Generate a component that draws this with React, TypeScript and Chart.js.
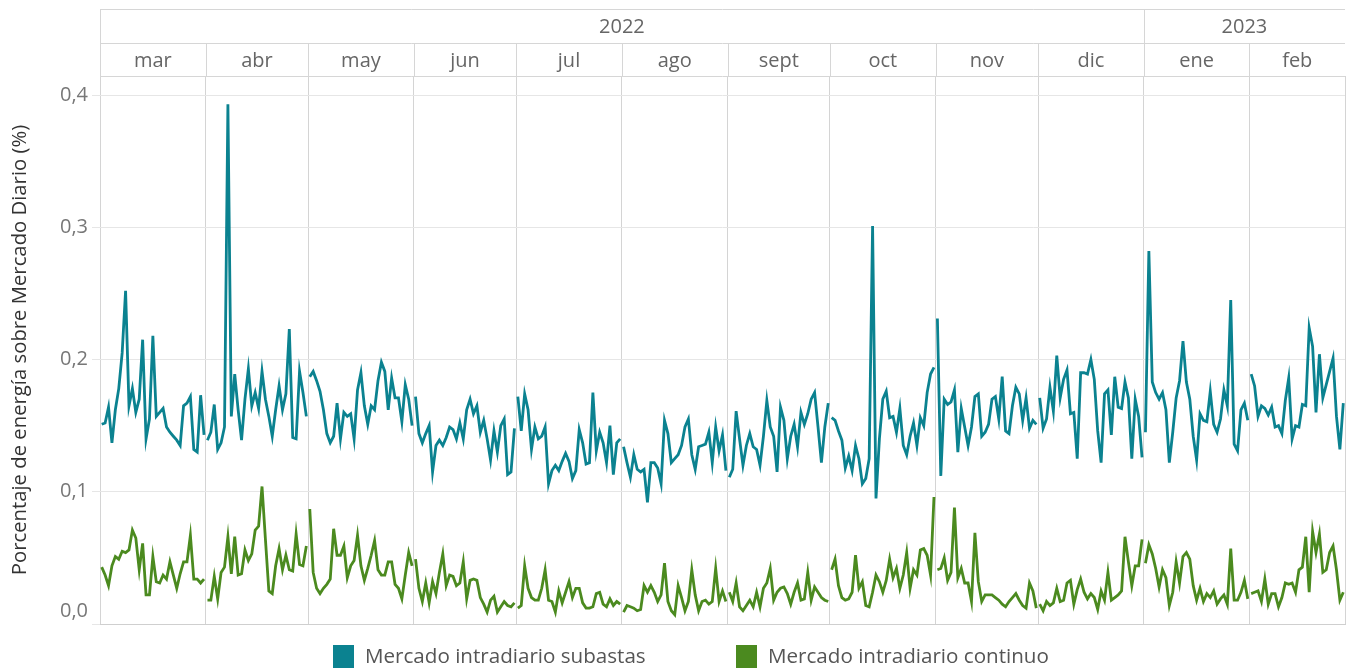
import React, { useEffect, useRef } from "react";
import { Chart, registerables } from "chart.js";

Chart.register(...registerables);

const MONTHS = ["mar", "abr", "may", "jun", "jul", "ago", "sept", "oct", "nov", "dic", "ene", "feb"];
const MONTH_DAYS = [31, 30, 31, 30, 31, 31, 30, 31, 30, 31, 31, 28];
const YEARS = ["2022", "2023"];
const YEAR_MONTH_COUNTS = [10, 2];
const Y_TICKS = [0, 0.1, 0.2, 0.3, 0.4];
const SERIES_NAMES = ["Mercado intradiario subastas", "Mercado intradiario continuo"];
const AXIS_TITLE = "Porcentaje de energía sobre Mercado Diario (%)";

// Mercado intradiario subastas — one array per month (mar 2022 … feb 2023)
const subastas: number[][] = [
  [0.151, 0.152, 0.164, 0.137, 0.162, 0.178, 0.205, 0.252, 0.165, 0.178, 0.160, 0.170, 0.215, 0.140, 0.155, 0.218, 0.157, 0.160, 0.163, 0.149, 0.145, 0.142, 0.139, 0.135, 0.165, 0.167, 0.172, 0.132, 0.130, 0.173, 0.143],
  [0.139, 0.145, 0.166, 0.132, 0.137, 0.149, 0.393, 0.157, 0.189, 0.162, 0.139, 0.170, 0.193, 0.165, 0.175, 0.163, 0.191, 0.170, 0.157, 0.142, 0.162, 0.180, 0.162, 0.174, 0.223, 0.141, 0.140, 0.191, 0.175, 0.157],
  [0.187, 0.191, 0.184, 0.176, 0.162, 0.144, 0.137, 0.142, 0.167, 0.140, 0.160, 0.157, 0.159, 0.140, 0.177, 0.190, 0.165, 0.151, 0.165, 0.162, 0.184, 0.198, 0.191, 0.162, 0.186, 0.171, 0.171, 0.153, 0.181, 0.170, 0.150],
  [0.172, 0.144, 0.137, 0.144, 0.150, 0.115, 0.135, 0.139, 0.135, 0.141, 0.149, 0.147, 0.140, 0.152, 0.140, 0.162, 0.170, 0.159, 0.165, 0.145, 0.154, 0.140, 0.124, 0.146, 0.130, 0.150, 0.155, 0.113, 0.115, 0.148],
  [0.172, 0.146, 0.174, 0.162, 0.132, 0.149, 0.140, 0.142, 0.149, 0.106, 0.116, 0.120, 0.116, 0.123, 0.129, 0.123, 0.110, 0.116, 0.147, 0.137, 0.121, 0.122, 0.175, 0.131, 0.145, 0.137, 0.122, 0.150, 0.113, 0.137, 0.140],
  [0.134, 0.122, 0.111, 0.128, 0.117, 0.115, 0.117, 0.092, 0.122, 0.122, 0.118, 0.106, 0.154, 0.144, 0.122, 0.125, 0.128, 0.135, 0.149, 0.155, 0.128, 0.117, 0.134, 0.135, 0.136, 0.145, 0.122, 0.149, 0.131, 0.143, 0.116],
  [0.111, 0.117, 0.161, 0.140, 0.120, 0.135, 0.144, 0.134, 0.132, 0.120, 0.142, 0.169, 0.149, 0.142, 0.115, 0.164, 0.154, 0.125, 0.142, 0.151, 0.134, 0.160, 0.151, 0.159, 0.170, 0.175, 0.149, 0.122, 0.149, 0.167],
  [0.156, 0.154, 0.146, 0.139, 0.118, 0.127, 0.116, 0.135, 0.125, 0.106, 0.110, 0.125, 0.301, 0.095, 0.140, 0.170, 0.176, 0.156, 0.157, 0.145, 0.163, 0.135, 0.128, 0.142, 0.152, 0.135, 0.156, 0.150, 0.175, 0.189, 0.194],
  [0.231, 0.112, 0.170, 0.166, 0.168, 0.177, 0.130, 0.163, 0.149, 0.135, 0.149, 0.172, 0.174, 0.142, 0.145, 0.151, 0.170, 0.172, 0.155, 0.187, 0.146, 0.144, 0.165, 0.179, 0.174, 0.154, 0.171, 0.148, 0.154, 0.151],
  [0.171, 0.148, 0.155, 0.179, 0.161, 0.203, 0.171, 0.185, 0.192, 0.159, 0.160, 0.125, 0.190, 0.190, 0.189, 0.200, 0.185, 0.146, 0.122, 0.174, 0.177, 0.143, 0.187, 0.164, 0.163, 0.183, 0.171, 0.125, 0.170, 0.157, 0.126],
  [0.145, 0.282, 0.183, 0.175, 0.170, 0.175, 0.162, 0.122, 0.145, 0.171, 0.184, 0.214, 0.183, 0.170, 0.142, 0.124, 0.159, 0.154, 0.153, 0.176, 0.151, 0.145, 0.155, 0.177, 0.165, 0.245, 0.136, 0.131, 0.162, 0.167, 0.154],
  [0.189, 0.180, 0.157, 0.165, 0.163, 0.158, 0.164, 0.149, 0.150, 0.144, 0.169, 0.186, 0.140, 0.150, 0.149, 0.166, 0.165, 0.224, 0.210, 0.160, 0.204, 0.171, 0.181, 0.191, 0.201, 0.157, 0.132, 0.167],
];

// Mercado intradiario continuo — one array per month (mar 2022 … feb 2023)
const continuo: number[][] = [
  [0.043, 0.037, 0.029, 0.044, 0.051, 0.049, 0.055, 0.054, 0.056, 0.071, 0.065, 0.041, 0.061, 0.022, 0.022, 0.051, 0.032, 0.031, 0.037, 0.034, 0.047, 0.037, 0.027, 0.038, 0.047, 0.047, 0.067, 0.034, 0.034, 0.031, 0.034],
  [0.018, 0.018, 0.036, 0.019, 0.039, 0.043, 0.066, 0.038, 0.066, 0.037, 0.038, 0.056, 0.048, 0.053, 0.071, 0.074, 0.104, 0.064, 0.025, 0.023, 0.044, 0.057, 0.041, 0.052, 0.041, 0.040, 0.068, 0.045, 0.044, 0.059],
  [0.087, 0.039, 0.027, 0.023, 0.027, 0.030, 0.034, 0.072, 0.052, 0.052, 0.059, 0.035, 0.044, 0.048, 0.067, 0.044, 0.033, 0.042, 0.052, 0.063, 0.041, 0.037, 0.037, 0.047, 0.047, 0.030, 0.027, 0.019, 0.037, 0.054, 0.044],
  [0.049, 0.027, 0.017, 0.031, 0.016, 0.032, 0.023, 0.039, 0.053, 0.029, 0.037, 0.036, 0.029, 0.031, 0.047, 0.019, 0.033, 0.034, 0.033, 0.020, 0.015, 0.009, 0.018, 0.021, 0.009, 0.013, 0.017, 0.014, 0.013, 0.016],
  [0.012, 0.014, 0.044, 0.027, 0.020, 0.018, 0.018, 0.027, 0.041, 0.018, 0.017, 0.009, 0.025, 0.016, 0.024, 0.032, 0.020, 0.027, 0.027, 0.016, 0.012, 0.012, 0.013, 0.023, 0.024, 0.015, 0.013, 0.019, 0.014, 0.017, 0.015],
  [0.009, 0.014, 0.013, 0.012, 0.010, 0.011, 0.029, 0.024, 0.029, 0.024, 0.017, 0.022, 0.046, 0.017, 0.010, 0.007, 0.029, 0.020, 0.010, 0.017, 0.041, 0.022, 0.010, 0.017, 0.018, 0.015, 0.017, 0.042, 0.017, 0.025, 0.017],
  [0.024, 0.017, 0.031, 0.013, 0.010, 0.014, 0.018, 0.013, 0.024, 0.013, 0.027, 0.031, 0.042, 0.018, 0.024, 0.027, 0.028, 0.023, 0.015, 0.024, 0.031, 0.018, 0.019, 0.039, 0.018, 0.028, 0.024, 0.020, 0.018, 0.017],
  [0.041, 0.049, 0.029, 0.020, 0.018, 0.019, 0.024, 0.052, 0.027, 0.032, 0.014, 0.013, 0.024, 0.037, 0.032, 0.024, 0.033, 0.049, 0.035, 0.042, 0.027, 0.037, 0.054, 0.027, 0.041, 0.037, 0.056, 0.057, 0.052, 0.037, 0.096],
  [0.041, 0.042, 0.050, 0.033, 0.039, 0.088, 0.035, 0.042, 0.031, 0.031, 0.017, 0.069, 0.032, 0.017, 0.022, 0.022, 0.022, 0.020, 0.018, 0.015, 0.013, 0.017, 0.020, 0.023, 0.018, 0.014, 0.012, 0.031, 0.025, 0.012],
  [0.015, 0.010, 0.017, 0.014, 0.016, 0.027, 0.017, 0.018, 0.031, 0.033, 0.015, 0.026, 0.034, 0.024, 0.019, 0.023, 0.020, 0.011, 0.025, 0.018, 0.039, 0.018, 0.020, 0.022, 0.025, 0.066, 0.047, 0.029, 0.044, 0.044, 0.064],
  [0.046, 0.060, 0.053, 0.042, 0.028, 0.041, 0.035, 0.014, 0.024, 0.047, 0.031, 0.051, 0.054, 0.049, 0.029, 0.018, 0.027, 0.017, 0.023, 0.020, 0.025, 0.015, 0.019, 0.022, 0.015, 0.057, 0.018, 0.018, 0.024, 0.033, 0.019],
  [0.023, 0.024, 0.025, 0.017, 0.034, 0.015, 0.023, 0.023, 0.013, 0.020, 0.031, 0.030, 0.031, 0.024, 0.041, 0.043, 0.066, 0.024, 0.070, 0.054, 0.068, 0.039, 0.041, 0.054, 0.059, 0.041, 0.018, 0.024],
];

const TEAL = "#0b8290";
const GREEN = "#4b8a1f";
const FONT = "'Open Sans', 'DejaVu Sans', sans-serif";

function monthStarts(): number[] {
  const starts: number[] = [];
  let acc = 0;
  for (const d of MONTH_DAYS) {
    starts.push(acc);
    acc += d;
  }
  starts.push(acc);
  return starts;
}

function buildPoints(series: number[][]) {
  const starts = monthStarts();
  const pts: { x: number; y: number | null }[] = [];
  series.forEach((month, m) => {
    month.forEach((v, i) => pts.push({ x: starts[m] + i + 0.5, y: v }));
    pts.push({ x: starts[m + 1], y: null });
  });
  return pts;
}

const fmt = (v: number) => v.toFixed(1).replace(".", ",");

const decorPlugin = {
  id: "decor",
  afterDraw(chart: any) {
    const { ctx, chartArea, scales } = chart;
    const xs = scales.x;
    const ys = scales.y;
    const starts = monthStarts();
    const L = chartArea.left;
    const R = chartArea.right;
    const headTop = 9.5;
    const headMid = 43.5;
    const headBot = chartArea.top + 0.5;
    ctx.save();
    ctx.strokeStyle = "#d6d6d6";
    ctx.lineWidth = 1;
    [headTop, headMid, headBot].forEach((y) => {
      ctx.beginPath();
      ctx.moveTo(L, y);
      ctx.lineTo(R, y);
      ctx.stroke();
    });
    ctx.beginPath();
    ctx.moveTo(Math.round(L) + 0.5, headTop);
    ctx.lineTo(Math.round(L) + 0.5, headBot);
    ctx.stroke();
    for (let m = 1; m < MONTHS.length; m++) {
      const px = Math.round(xs.getPixelForValue(starts[m])) + 0.5;
      ctx.beginPath();
      ctx.moveTo(px, headMid);
      ctx.lineTo(px, headBot);
      ctx.stroke();
    }
    let mi = 0;
    const yearBounds: [number, number][] = [];
    YEAR_MONTH_COUNTS.forEach((c) => {
      const a = xs.getPixelForValue(starts[mi]);
      const b = xs.getPixelForValue(starts[mi + c]);
      yearBounds.push([a, b]);
      mi += c;
    });
    for (let i = 1; i < yearBounds.length; i++) {
      const px = Math.round(yearBounds[i][0]) + 0.5;
      ctx.beginPath();
      ctx.moveTo(px, headTop);
      ctx.lineTo(px, headBot);
      ctx.stroke();
    }
    ctx.fillStyle = "#666666";
    ctx.font = `20px ${FONT}`;
    ctx.textAlign = "center";
    ctx.textBaseline = "middle";
    YEARS.forEach((y, i) => {
      ctx.fillText(y, (yearBounds[i][0] + yearBounds[i][1]) / 2, 27);
    });
    MONTHS.forEach((m, i) => {
      const a = xs.getPixelForValue(starts[i]);
      const b = xs.getPixelForValue(starts[i + 1]);
      ctx.fillText(m, (a + b) / 2, 61);
    });
    ctx.fillStyle = "#777777";
    ctx.textAlign = "right";
    Y_TICKS.forEach((v) => {
      let py = ys.getPixelForValue(v);
      if (v === 0) py -= 13;
      ctx.fillText(fmt(v), 88, py);
    });
    ctx.save();
    ctx.translate(20, (chartArea.top + chartArea.bottom) / 2);
    ctx.rotate(-Math.PI / 2);
    ctx.fillStyle = "#333333";
    ctx.textAlign = "center";
    ctx.font = `20.3px ${FONT}`;
    ctx.fillText(AXIS_TITLE, 0, 0);
    ctx.restore();
    const legendItems = [
      { name: SERIES_NAMES[0], color: TEAL, x: 333 },
      { name: SERIES_NAMES[1], color: GREEN, x: 736 },
    ];
    ctx.textAlign = "left";
    ctx.font = `20.6px ${FONT}`;
    legendItems.forEach((it) => {
      ctx.fillStyle = it.color;
      ctx.fillRect(it.x, 645, 21, 23);
      ctx.fillStyle = "#555555";
      ctx.fillText(it.name, it.x + 32, 657);
    });
    ctx.restore();
  },
};

export default function App() {
  const canvasRef = useRef<HTMLCanvasElement | null>(null);

  useEffect(() => {
    const canvas = canvasRef.current;
    if (!canvas) return;
    const starts = monthStarts();
    const chart = new Chart(canvas, {
      type: "line",
      data: {
        datasets: [
          {
            label: SERIES_NAMES[0],
            data: buildPoints(subastas) as any,
            borderColor: TEAL,
            borderWidth: 2.8,
            pointRadius: 0,
            tension: 0,
            spanGaps: false,
          },
          {
            label: SERIES_NAMES[1],
            data: buildPoints(continuo) as any,
            borderColor: GREEN,
            borderWidth: 2.8,
            pointRadius: 0,
            tension: 0,
            spanGaps: false,
          },
        ],
      },
      options: {
        animation: false,
        responsive: false,
        maintainAspectRatio: false,
        layout: { padding: { top: 76, right: 6, bottom: 46, left: 0 } },
        plugins: {
          legend: { display: false },
          tooltip: { enabled: false },
        },
        scales: {
          x: {
            type: "linear",
            min: 0,
            max: starts[starts.length - 1],
            afterBuildTicks: (s: any) => {
              s.ticks = starts.map((v) => ({ value: v }));
            },
            afterFit: (s: any) => {
              s.height = 0;
            },
            ticks: { display: false },
            grid: { color: "#d4d4d4", lineWidth: 1, drawTicks: false },
            border: { display: true, color: "#cfcfcf", width: 1 },
          },
          y: {
            type: "linear",
            min: 0,
            max: 0.4144,
            afterBuildTicks: (s: any) => {
              s.ticks = Y_TICKS.map((v) => ({ value: v }));
            },
            afterFit: (s: any) => {
              s.width = 100;
            },
            ticks: { display: false },
            grid: { color: "#e6e6e6", lineWidth: 1, drawTicks: true, tickLength: 8 },
            border: { display: false },
          },
        },
      },
      plugins: [decorPlugin],
    });
    return () => chart.destroy();
  }, []);

  return (
    <div style={{ position: "absolute", left: 0, top: 0, width: 1351, height: 670, background: "#ffffff" }}>
      <canvas ref={canvasRef} width={1351} height={670} style={{ display: "block", width: 1351, height: 670 }} />
    </div>
  );
}
